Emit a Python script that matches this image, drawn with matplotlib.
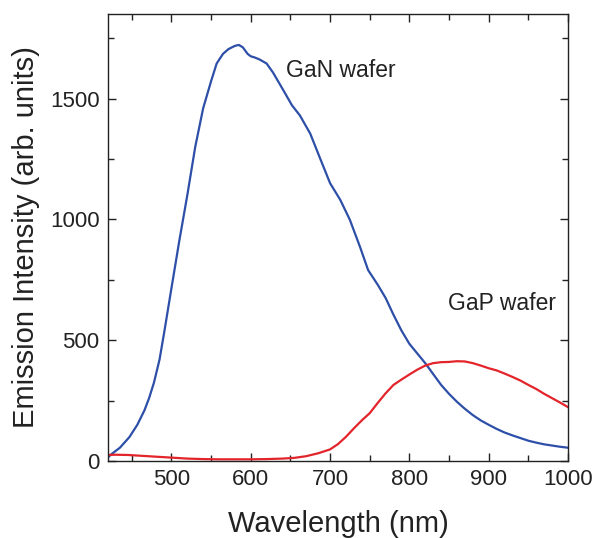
import numpy as np
import matplotlib.pyplot as plt
from matplotlib.ticker import MultipleLocator

plt.rcParams['font.family'] = ['Liberation Sans', 'DejaVu Sans']

# GaN wafer emission
gan_wl = [420, 425, 435, 447, 457, 466, 472, 478, 485, 491, 500, 510, 520, 530,
          540, 550, 557, 565, 572, 580, 585, 590, 596, 600, 605, 611, 620, 628,
          641, 652, 662, 675, 687, 700, 713, 725, 738, 748, 754, 760, 770, 780,
          790, 800, 810, 820, 830, 840, 850, 860, 870, 880, 890, 900, 910, 920,
          930, 940, 950, 960, 970, 980, 990, 1000]
gan_int = [15, 30, 55, 99, 150, 210, 262, 325, 420, 535, 715, 913, 1100, 1300,
           1460, 1572, 1645, 1685, 1705, 1718, 1722, 1712, 1685, 1675, 1670, 1662,
           1645, 1608, 1535, 1472, 1430, 1355, 1256, 1150, 1080, 998, 884, 790,
           760, 730, 675, 605, 540, 485, 445, 405, 360, 315, 278, 245, 216, 190,
           168, 150, 133, 118, 106, 95, 84, 76, 69, 64, 59, 55]

# GaP wafer emission
gap_wl = [418, 430, 445, 460, 480, 500, 520, 540, 560, 580, 600, 620, 640, 655,
          670, 685, 700, 710, 720, 730, 740, 750, 760, 770, 780, 790, 800, 810,
          820, 830, 840, 850, 860, 870, 880, 890, 900, 910, 920, 930, 940, 950,
          960, 970, 980, 990, 1000]
gap_int = [25, 26, 25, 22, 18, 14, 10, 8, 7, 7, 7, 8, 10, 13,
           20, 32, 48, 70, 100, 135, 168, 198, 240, 280, 315, 337, 358, 378,
           395, 405, 409, 410, 413, 412, 405, 395, 384, 375, 362, 348, 333, 315,
           298, 278, 260, 242, 223]

fig = plt.figure(figsize=(5.95, 5.38), dpi=100)
ax = fig.add_axes([0.1815, 0.1431, 0.7731, 0.8309])

ax.plot(gan_wl, gan_int, color='#2d4fa8', lw=1.6)
ax.plot(gap_wl, gap_int, color='#e3242b', lw=1.6)

ax.text(645, 1615, 'GaN wafer', fontsize=16.5, va='center', color='#222222')
ax.text(849, 653, 'GaP wafer', fontsize=16.5, va='center', color='#222222')

ax.set_xlim(420, 1000)
ax.set_ylim(0, 1850)
ax.xaxis.set_major_locator(MultipleLocator(100))
ax.xaxis.set_minor_locator(MultipleLocator(50))
ax.yaxis.set_major_locator(MultipleLocator(500))
ax.yaxis.set_minor_locator(MultipleLocator(250))
ax.tick_params(which='both', direction='in', top=True, right=True, labelsize=16,
               width=1, color='#222222', labelcolor='#222222')
ax.tick_params(which='major', length=6, pad=6)
ax.tick_params(which='minor', length=4)
for s in ax.spines.values():
    s.set_linewidth(1)
    s.set_color('#222222')

ax.set_xlabel('Wavelength (nm)', fontsize=21, labelpad=14, color='#222222')
ax.set_ylabel('Emission Intensity (arb. units)', fontsize=21, labelpad=7,
              color='#222222')

plt.savefig('out.png', dpi=100)
